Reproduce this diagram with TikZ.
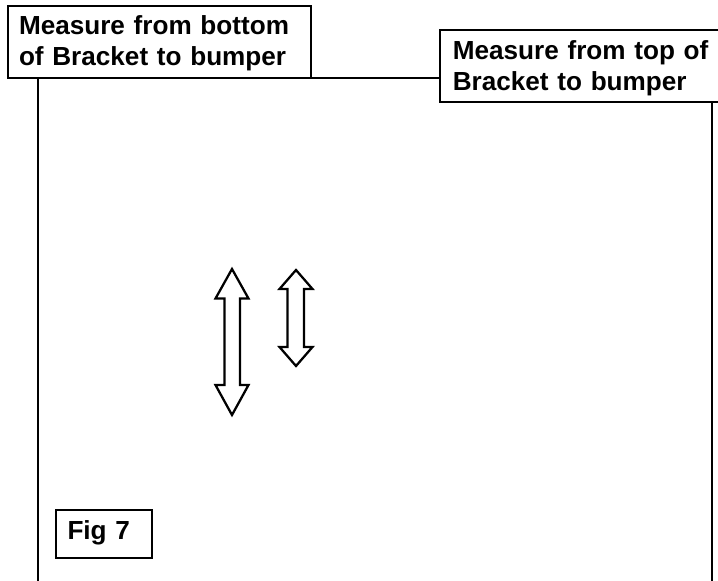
\documentclass[tikz,border=0pt]{standalone}
\usepackage{fontspec}
\setmainfont{Liberation Sans}
\newcommand{\topgap}{\rule{0pt}{16.6pt}}
\newcommand{\lowgap}{\rule[-5.6pt]{0pt}{0pt}}
\begin{document}
\begin{tikzpicture}[x=0.75pt,y=-0.75pt,line width=1.5pt,line join=miter,
  labelbox/.style={draw=black,fill=white,rectangle,outer sep=0pt,inner ysep=0pt,anchor=north west,
    align=left,font=\bfseries\fontsize{19.6}{23.3}\selectfont},
  rule/.style={draw=black,line width=1.5pt},
  updown/.style={draw=black,line width=1.7pt,fill=white}]
\useasboundingbox (0,0) rectangle (718,581);
\coordinate (leftend) at (38,581);
\coordinate (rightend) at (712,581);
\node[labelbox,inner xsep=8.25pt,text width=211pt,minimum height=54pt] (bottombox) at (8,6) {\topgap Measure from bottom\\of Bracket to bumper};
\node[labelbox,inner xsep=10pt,text width=200pt,minimum height=54pt] (topbox) at (439.5,30.5) {\topgap Measure from top of\\Bracket to bumper};
\node[labelbox,inner xsep=9pt,text width=54.5pt,minimum height=36pt] (figbox) at (55.5,510) {Fig 7\lowgap};
\draw[rule] (bottombox.south east) -- (bottombox.south east -| topbox.west);
\draw[rule] (bottombox.south west -| leftend) -- (leftend);
\draw[rule] (topbox.south west -| rightend) -- (rightend);
\draw[updown] (232,269) -- (248.5,298.5) -- (240,298.5) -- (240,385) -- (248.5,385) -- (232,415) -- (215.5,385) -- (224.5,385) -- (224.5,298.5) -- (215.5,298.5) -- cycle;
\draw[updown] (296,270) -- (312.5,289) -- (304,289) -- (304,347) -- (312.5,347) -- (296,366) -- (279.5,347) -- (287.5,347) -- (287.5,289) -- (279.5,289) -- cycle;
\end{tikzpicture}
\end{document}
